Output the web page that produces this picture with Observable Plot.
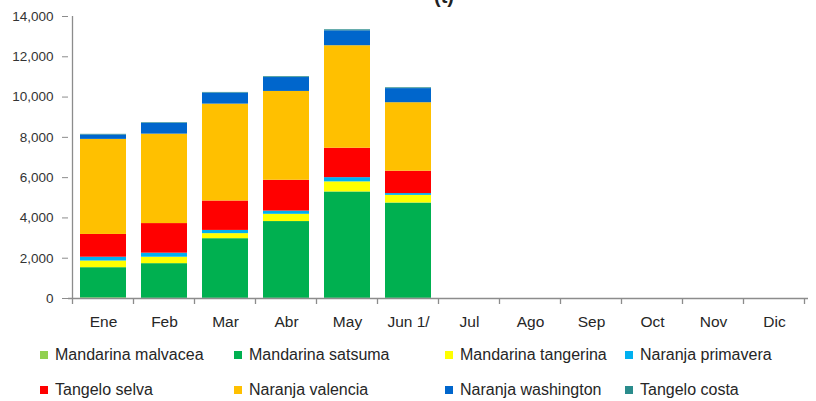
<!DOCTYPE html>
<html><head><meta charset="utf-8">
<script src="https://cdn.jsdelivr.net/npm/d3@7"></script>
<script src="https://cdn.jsdelivr.net/npm/@observablehq/plot@0.6"></script>
<style>
body{margin:0;background:#fff;font-family:"Liberation Sans",Arial,sans-serif;width:816px;height:401px;overflow:hidden;position:relative}
#title{position:absolute;top:-15px;left:444px;transform:translateX(-50%);font-weight:bold;font-size:20px;color:#222;white-space:nowrap}
#chart{position:absolute;left:0;top:0}
.item{position:absolute;font-size:16px;color:#262626;white-space:nowrap;display:flex;align-items:center;height:20px}
.sw{width:8px;height:8px;margin-right:7px;flex:none}
</style></head>
<body>
<div id="chart"></div>
<div id="title">(t)</div>
<div id="legend"></div>
<script>
const months = ["Ene","Feb","Mar","Abr","May","Jun 1/","Jul","Ago","Sep","Oct","Nov","Dic"];
const seriesNames = ["Mandarina malvacea","Mandarina satsuma","Mandarina tangerina","Naranja primavera","Tangelo selva","Naranja valencia","Naranja washington","Tangelo costa"];
const seriesColors = ["#92d050","#00b050","#ffff00","#00b0f0","#ff0000","#ffc000","#0066cc","#2a8c8c"];
// values for Ene..Jun 1/ (remaining months have no data)
const malvacea   = [30, 10, 10, 10, 10, 10];
const satsuma    = [1500, 1720, 2960, 3810, 5280, 4730];
const tangerina  = [330, 320, 250, 360, 500, 380];
const primavera  = [190, 200, 160, 160, 210, 90];
const selva      = [1130, 1470, 1460, 1530, 1460, 1110];
const valencia   = [4720, 4440, 4810, 4410, 5090, 3400];
const washington = [220, 540, 550, 690, 740, 700];
const costa      = [30, 30, 30, 40, 50, 40];
const yTicks = [0, 2000, 4000, 6000, 8000, 10000, 12000, 14000];

const seriesValues = [malvacea, satsuma, tangerina, primavera, selva, valencia, washington, costa];
const data = [];
seriesNames.forEach((s, si) => {
  seriesValues[si].forEach((v, mi) => data.push({month: months[mi], series: s, value: v}));
});

const W = 816, H = 340;
const chart = Plot.plot({
  width: W, height: H,
  marginTop: 16, marginBottom: 42, marginLeft: 68, marginRight: 8,
  style: {fontFamily: "Liberation Sans, Arial, sans-serif", background: "transparent"},
  x: {domain: months, paddingInner: 0.25, paddingOuter: 0.125, label: null},
  y: {domain: [0, 14000], label: null},
  color: {domain: seriesNames, range: seriesColors},
  marks: [
    Plot.barY(data, Plot.stackY({x: "month", y: "value", fill: "series", order: seriesNames})),
    Plot.ruleY([0], {stroke: "#8c8c8c", strokeWidth: 1.3}),
    Plot.axisY({ticks: yTicks, tickFormat: d3.format(","), tickSize: 6, tickPadding: 9, fontSize: 13.5, stroke: "#8c8c8c", fill: "#333", label: null}),
    Plot.axisX({tickSize: 0, tickPadding: 17, fontSize: 15.5, fill: "#262626", label: null})
  ]
});
document.getElementById("chart").appendChild(chart);

// axis line & boundary ticks derived from the scales
const xs = chart.scale("x"), ys = chart.scale("y");
const svg = d3.select(chart);
const y0 = ys.apply(0), yTop = ys.apply(14000);
const xLeft = xs.apply(months[0]) - (xs.step - xs.bandwidth) / 2;
svg.append("line").attr("x1", xLeft).attr("x2", xLeft).attr("y1", yTop).attr("y2", y0)
  .attr("stroke", "#8c8c8c").attr("stroke-width", 1.3);
const bounds = months.map(m => xs.apply(m) - (xs.step - xs.bandwidth) / 2);
bounds.push(bounds[bounds.length - 1] + xs.step);
bounds.forEach(b => svg.append("line").attr("x1", b).attr("x2", b).attr("y1", y0).attr("y2", y0 + 6)
  .attr("stroke", "#8c8c8c").attr("stroke-width", 1.3));

// legend
const legendCols = [40, 234, 445, 625];
const legendRows = [345, 380];
const legend = document.getElementById("legend");
seriesNames.forEach((s, i) => {
  const it = document.createElement("div");
  it.className = "item";
  it.style.left = legendCols[i % 4] + "px";
  it.style.top = legendRows[Math.floor(i / 4)] + "px";
  it.innerHTML = `<span class="sw" style="background:${seriesColors[i]}"></span><span>${s}</span>`;
  legend.appendChild(it);
});
</script>
</body></html>
